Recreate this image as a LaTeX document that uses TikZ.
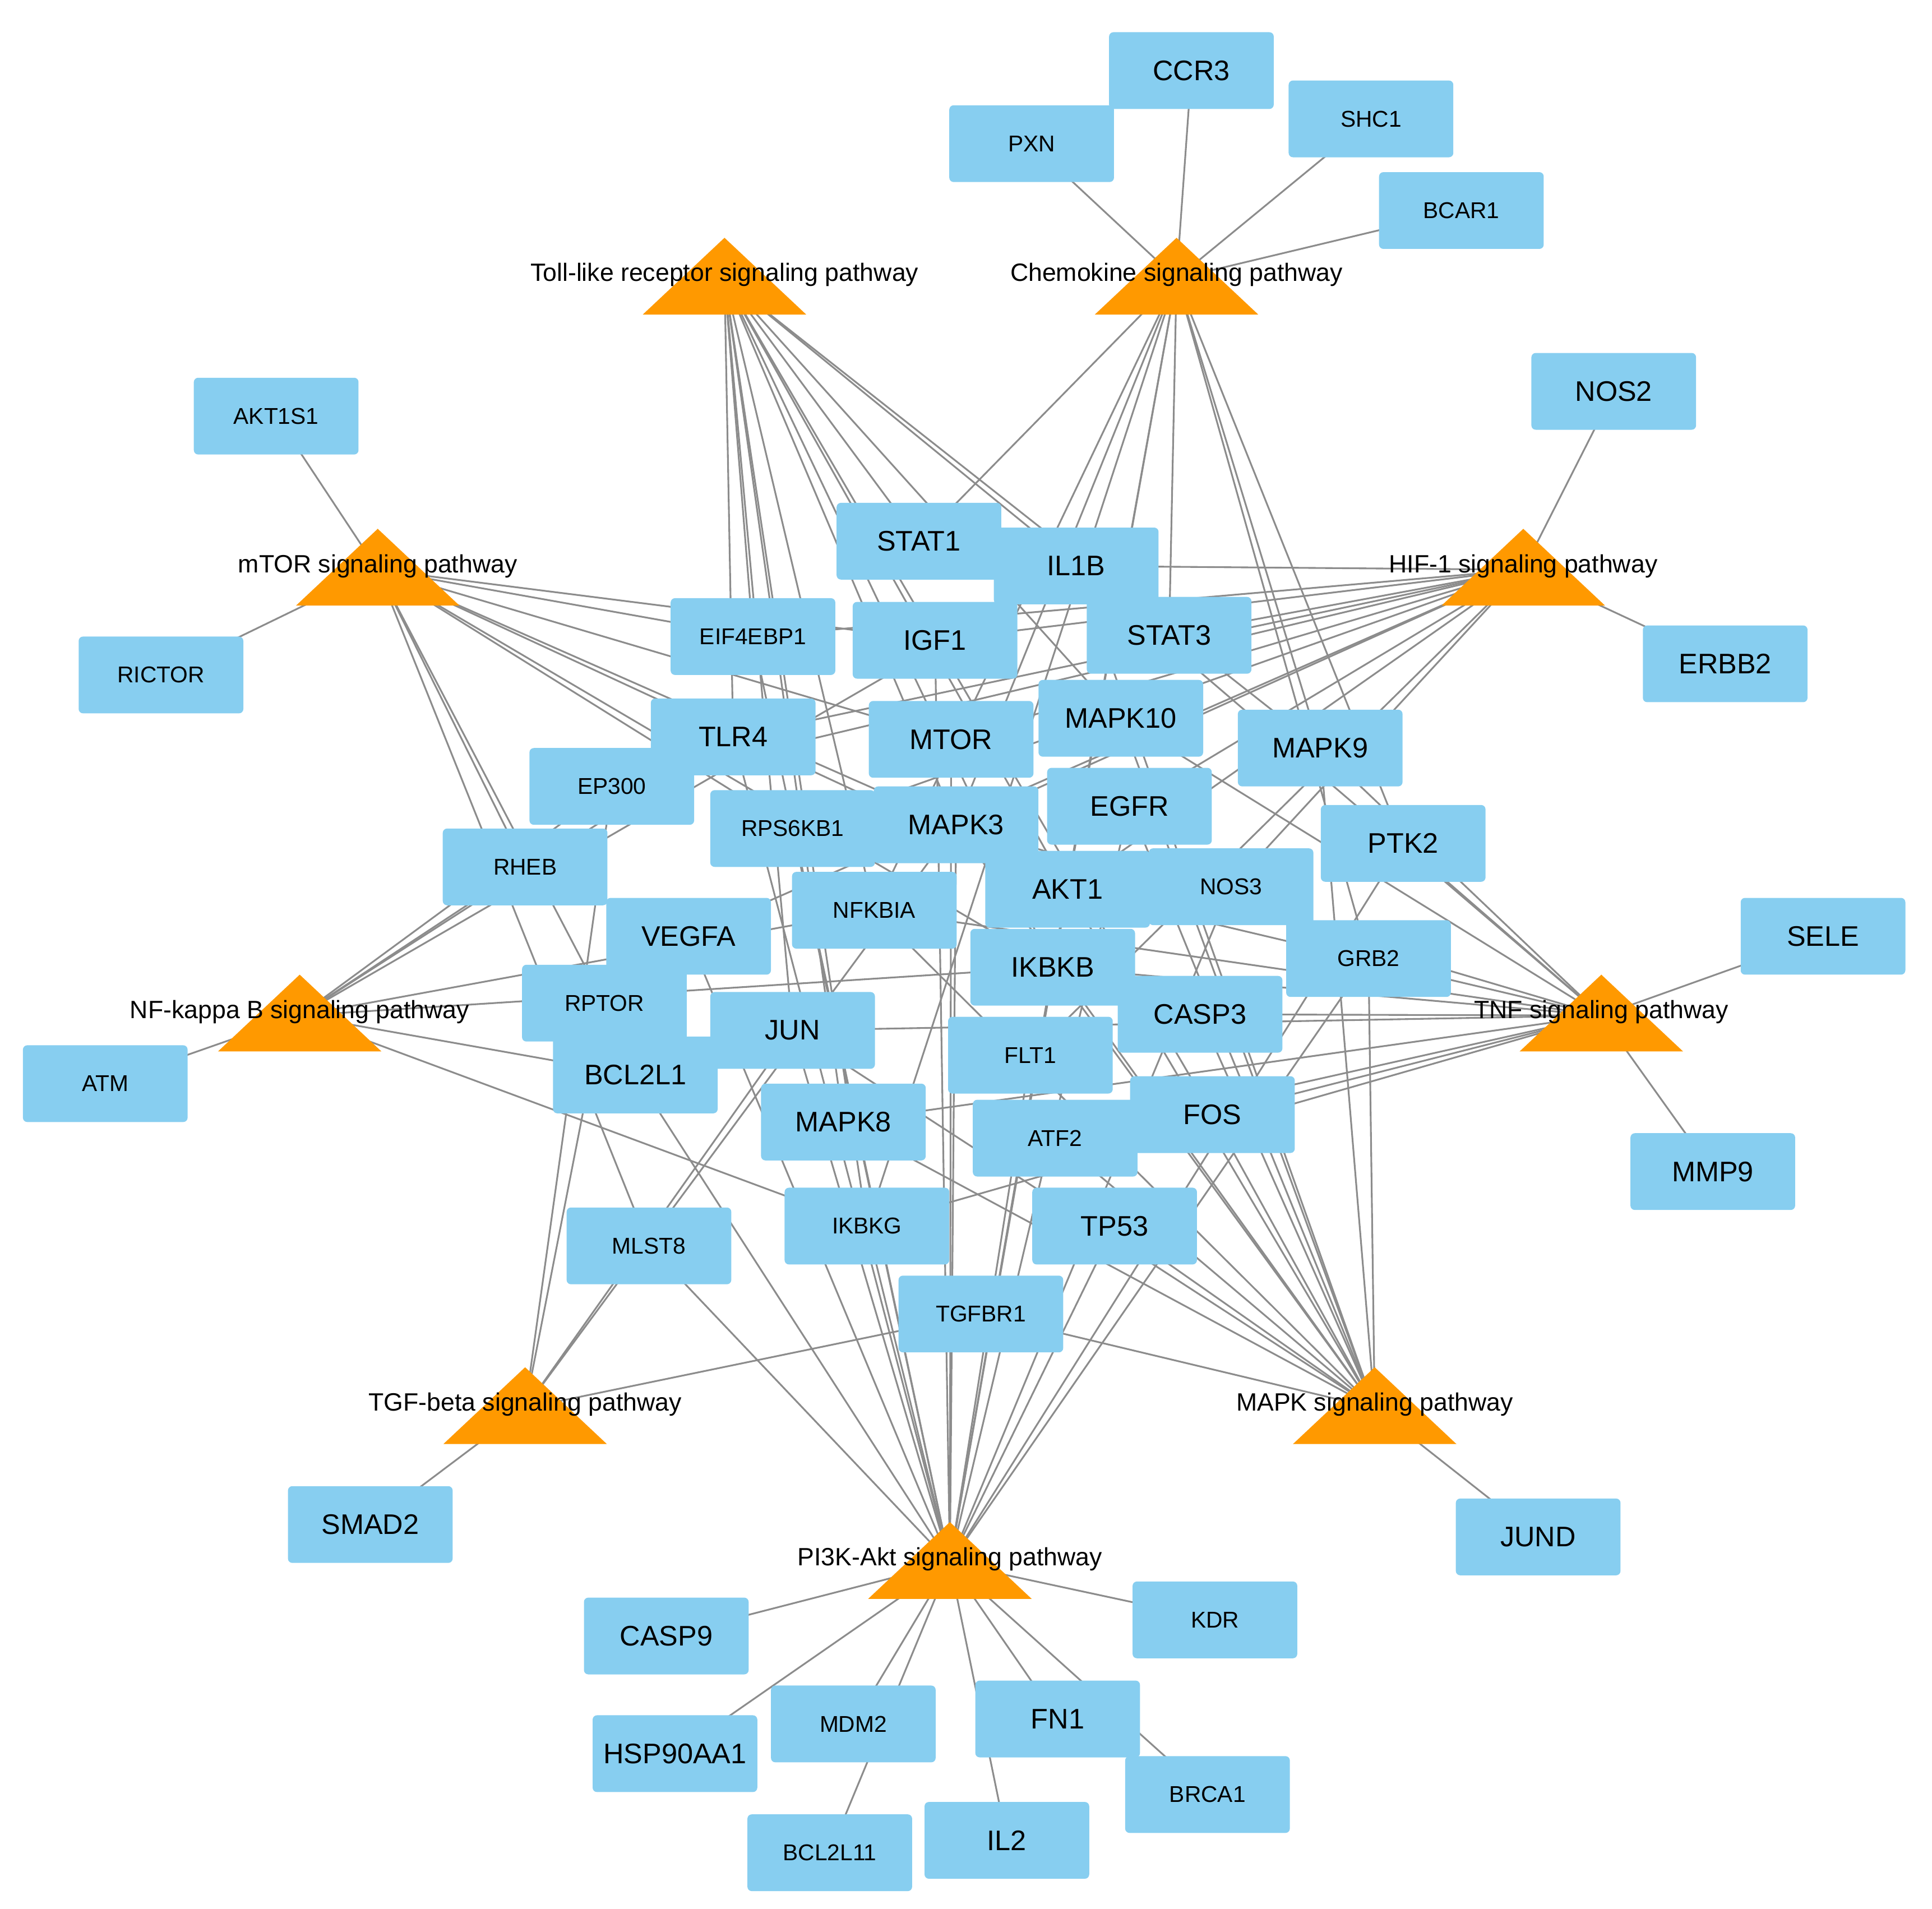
\documentclass[tikz,border=0pt]{standalone}
\usepackage{fontspec}
\setmainfont{Liberation Sans}
\usetikzlibrary{backgrounds,calc}
\definecolor{genec}{RGB}{135,206,240}
\definecolor{pathc}{RGB}{255,153,0}
\definecolor{edgec}{RGB}{140,140,140}
\tikzset{
 gL/.style={fill=genec,rounded corners=2pt,minimum width=2.66cm,minimum height=1.24cm,inner sep=0pt,font=\fontsize{13}{14}\selectfont},
 gS/.style={gL,font=\fontsize{10.5}{12}\selectfont},
 plab/.style={font=\fontsize{11.5}{12}\selectfont,inner sep=0pt},
 ed/.style={draw=edgec,line width=0.8pt},
}
\begin{document}
\begin{tikzpicture}[x=0.02cm,y=-0.02cm]
\useasboundingbox (0,0) rectangle (1560,1541);
\coordinate (toll) at (585,225);
\coordinate (chemo) at (950,225);
\coordinate (mtor) at (305,460);
\coordinate (hif) at (1230,460);
\coordinate (nfkb) at (242,820);
\coordinate (tnf) at (1293,820);
\coordinate (tgf) at (424,1137);
\coordinate (mapk) at (1110,1137);
\coordinate (pi3k) at (767,1262);
\node[gL] (CCR3) at (962,57) {CCR3};
\node[gS] (PXN) at (833,116) {PXN};
\node[gS] (SHC1) at (1107,96) {SHC1};
\node[gS] (BCAR1) at (1180,170) {BCAR1};
\node[gS] (AKT1S1) at (223,336) {AKT1S1};
\node[gL] (NOS2) at (1303,316) {NOS2};
\node[gS] (RICTOR) at (130,545) {RICTOR};
\node[gL] (ERBB2) at (1393,536) {ERBB2};
\node[gL] (STAT1) at (742,437) {STAT1};
\node[gL] (IL1B) at (869,457) {IL1B};
\node[gS] (EIF4EBP1) at (608,514) {EIF4EBP1};
\node[gL] (IGF1) at (755,517) {IGF1};
\node[gL] (STAT3) at (944,513) {STAT3};
\node[gL] (TLR4) at (592,595) {TLR4};
\node[gL] (MTOR) at (768,597) {MTOR};
\node[gL] (MAPK10) at (905,580) {MAPK10};
\node[gL] (MAPK9) at (1066,604) {MAPK9};
\node[gS] (EP300) at (494,635) {EP300};
\node[gS] (RPS6KB1) at (640,669) {RPS6KB1};
\node[gL] (MAPK3) at (772,666) {MAPK3};
\node[gL] (EGFR) at (912,651) {EGFR};
\node[gL] (PTK2) at (1133,681) {PTK2};
\node[gS] (RHEB) at (424,700) {RHEB};
\node[gL] (AKT1) at (862,718) {AKT1};
\node[gS] (NOS3) at (994,716) {NOS3};
\node[gS] (NFKBIA) at (706,735) {NFKBIA};
\node[gL] (VEGFA) at (556,756) {VEGFA};
\node[gL] (IKBKB) at (850,781) {IKBKB};
\node[gS] (GRB2) at (1105,774) {GRB2};
\node[gL] (SELE) at (1472,756) {SELE};
\node[gS] (RPTOR) at (488,810) {RPTOR};
\node[gL] (JUN) at (640,832) {JUN};
\node[gL] (CASP3) at (969,819) {CASP3};
\node[gS] (FLT1) at (832,852) {FLT1};
\node[gS] (ATM) at (85,875) {ATM};
\node[gL] (BCL2L1) at (513,868) {BCL2L1};
\node[gL] (FOS) at (979,900) {FOS};
\node[gL] (MAPK8) at (681,906) {MAPK8};
\node[gS] (ATF2) at (852,919) {ATF2};
\node[gL] (MMP9) at (1383,946) {MMP9};
\node[gS] (IKBKG) at (700,990) {IKBKG};
\node[gL] (TP53) at (900,990) {TP53};
\node[gS] (MLST8) at (524,1006) {MLST8};
\node[gS] (TGFBR1) at (792,1061) {TGFBR1};
\node[gL] (SMAD2) at (299,1231) {SMAD2};
\node[gL] (JUND) at (1242,1241) {JUND};
\node[gL] (CASP9) at (538,1321) {CASP9};
\node[gS] (KDR) at (981,1308) {KDR};
\node[gL] (HSP90AA1) at (545,1416) {HSP90AA1};
\node[gS] (MDM2) at (689,1392) {MDM2};
\node[gL] (FN1) at (854,1388) {FN1};
\node[gS] (BRCA1) at (975,1449) {BRCA1};
\node[gL] (IL2) at (813,1486) {IL2};
\node[gS] (BCL2L11) at (670,1496) {BCL2L11};
\begin{scope}[on background layer]
\foreach \p/\list in {
 toll/{STAT1,IL1B,TLR4,MAPK3,MAPK8,MAPK9,MAPK10,AKT1,NFKBIA,IKBKB,IKBKG,JUN,FOS,EIF4EBP1},
 chemo/{CCR3,PXN,SHC1,BCAR1,STAT1,STAT3,AKT1,PTK2,GRB2,NFKBIA,IKBKB,IKBKG,MAPK3,MAPK9},
 mtor/{AKT1S1,RICTOR,MTOR,RPS6KB1,EIF4EBP1,RHEB,RPTOR,MLST8,AKT1,MAPK3,IGF1,IKBKB},
 hif/{NOS2,ERBB2,STAT3,MTOR,RPS6KB1,EIF4EBP1,IGF1,AKT1,MAPK3,EGFR,VEGFA,EP300,NOS3,FLT1,TLR4,IL1B},
 nfkb/{ATM,TLR4,IL1B,NFKBIA,IKBKB,IKBKG,BCL2L1,RHEB,EP300},
 tnf/{SELE,MMP9,MAPK3,MAPK8,MAPK9,MAPK10,AKT1,NFKBIA,IKBKB,IKBKG,CASP3,FOS,JUN,IL1B,ATF2,PTK2},
 tgf/{SMAD2,TGFBR1,EP300,JUN,MAPK3,RPTOR},
 mapk/{JUND,MAPK3,MAPK8,MAPK9,MAPK10,AKT1,EGFR,FOS,JUN,ATF2,IKBKB,TP53,CASP3,GRB2,TGFBR1,IL1B,NFKBIA},
 pi3k/{CASP9,KDR,HSP90AA1,MDM2,FN1,BRCA1,IL2,BCL2L11,TP53,AKT1,MTOR,RPS6KB1,EIF4EBP1,IGF1,EGFR,VEGFA,FLT1,PTK2,GRB2,NOS3,BCL2L1,MAPK3,TLR4,IKBKB,IKBKG,MLST8,JUN}}
 {\foreach \g in \list {\draw[ed] (\p) -- (\g.center);}}
\end{scope}
\foreach \p/\t in {toll/Toll-like receptor signaling pathway,chemo/Chemokine signaling pathway,mtor/mTOR signaling pathway,hif/HIF-1 signaling pathway,nfkb/NF-kappa B signaling pathway,tnf/TNF signaling pathway,tgf/TGF-beta signaling pathway,mapk/MAPK signaling pathway,pi3k/PI3K-Akt signaling pathway}{
 \fill[pathc] ($(\p)+(0,-33)$) -- ($(\p)+(-66,29)$) -- ($(\p)+(66,29)$) -- cycle;
 \node[plab] (\p l) at ($(\p)+(0,-3)$) {\t};}
\end{tikzpicture}
\end{document}
